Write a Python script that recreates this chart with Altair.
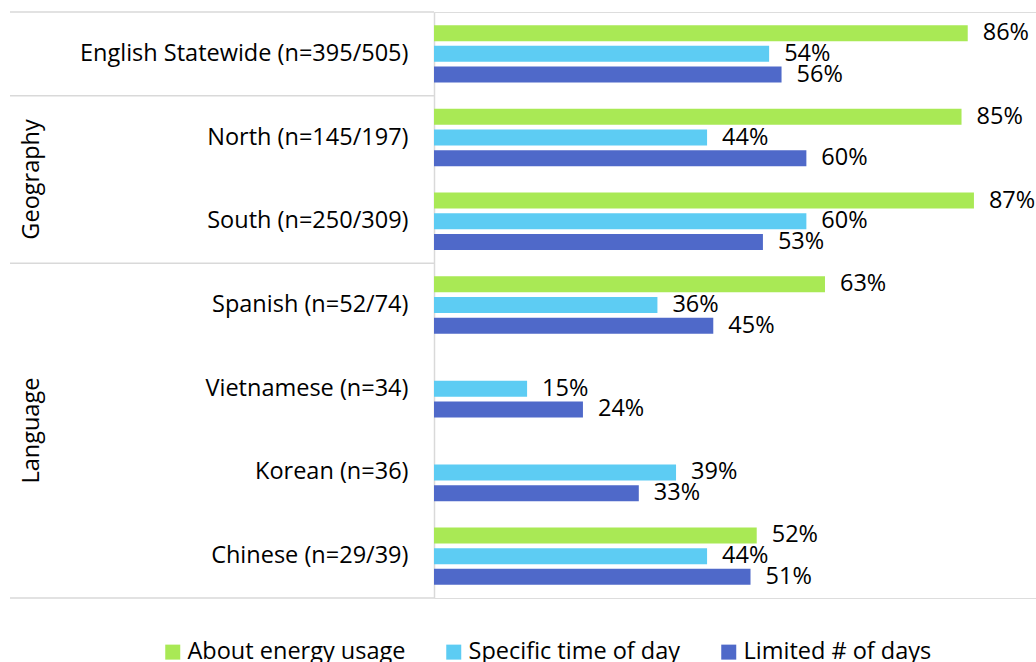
import altair as alt
import pandas as pd

categories = ["English Statewide (n=395/505)", "North (n=145/197)", "South (n=250/309)",
              "Spanish (n=52/74)", "Vietnamese (n=34)", "Korean (n=36)", "Chinese (n=29/39)"]
series = ["About energy usage", "Specific time of day", "Limited # of days"]
energy = [86, 85, 87, 63, None, None, 52]
specific = [54, 44, 60, 36, 15, 39, 44]
limited = [56, 60, 53, 45, 24, 33, 51]
colors = ["#A9E955", "#5DCCF3", "#4F69C9"]

group_titles = ["Geography", "Language"]
group_anchor = ["North (n=145/197)", "Vietnamese (n=34)"]
group_tops = ["English Statewide (n=395/505)", "North (n=145/197)", "Spanish (n=52/74)"]
group_bottom = ["Chinese (n=29/39)"]

rows = []
for s, vals in zip(series, [energy, specific, limited]):
    for c, v in zip(categories, vals):
        if v is not None:
            rows.append({"cat": c, "series": s, "value": v, "label": f"{v}%"})
df = pd.DataFrame(rows)

FONT = "Open Sans"
FS = 23.5

y_enc = alt.Y("cat:N", sort=categories,
              scale=alt.Scale(domain=categories, paddingInner=0, paddingOuter=0),
              axis=alt.Axis(title=None, ticks=False, grid=False, labelFontSize=FS,
                            labelFont=FONT, labelColor="#000000", labelPadding=26,
                            domainColor="#D9D9D9", domainWidth=1.5, labelLimit=420))
yoff = alt.YOffset("series:N", sort=series,
                   scale=alt.Scale(domain=series, paddingInner=0.227, paddingOuter=0.635))
x_enc = alt.X("value:Q", scale=alt.Scale(domain=[0, 97]), axis=None)

bars = alt.Chart(df).mark_bar(cornerRadius=0).encode(
    x=x_enc, y=y_enc, yOffset=yoff,
    color=alt.Color("series:N", sort=series,
                    scale=alt.Scale(domain=series, range=colors),
                    legend=alt.Legend(title=None, orient="none", direction="horizontal",
                                      legendX=-273, legendY=628, labelFontSize=FS,
                                      labelFont=FONT, labelColor="#000000",
                                      symbolType="square", symbolSize=225,
                                      symbolStrokeWidth=0, columnPadding=36,
                                      labelOffset=3, labelLimit=420))
)

text = alt.Chart(df).mark_text(align="left", baseline="middle", dx=15, fontSize=FS,
                               font=FONT, color="#000000").encode(
    x=x_enc, y=alt.Y("cat:N", sort=categories), yOffset=yoff, text="label:N"
)

tops = alt.Chart(pd.DataFrame({"cat": group_tops})).mark_rule(
    color="#D9D9D9", strokeWidth=1.5).encode(
    y=alt.Y("cat:N", sort=categories, bandPosition=0),
    x=alt.value(-424), x2=alt.value(0))
bottom = alt.Chart(pd.DataFrame({"cat": group_bottom})).mark_rule(
    color="#D9D9D9", strokeWidth=1.5).encode(
    y=alt.Y("cat:N", sort=categories, bandPosition=1),
    x=alt.value(-424), x2=alt.value(0))

gtitles = alt.Chart(pd.DataFrame({"cat": group_anchor, "title": group_titles})).mark_text(
    angle=270, align="center", baseline="middle", fontSize=FS, font=FONT,
    color="#000000").encode(
    y=alt.Y("cat:N", sort=categories, bandPosition=1),
    x=alt.value(-402), text="title:N")

chart = alt.layer(bars, text, tops, bottom, gtitles).properties(
    width=602, height=586,
    autosize=alt.AutoSizeParams(type="none"),
    padding={"left": 434, "top": 12, "right": 0, "bottom": 64},
).configure_view(stroke=None).configure(background="white")

chart.save("out.html", embed_options={"renderer": "svg", "actions": False})
